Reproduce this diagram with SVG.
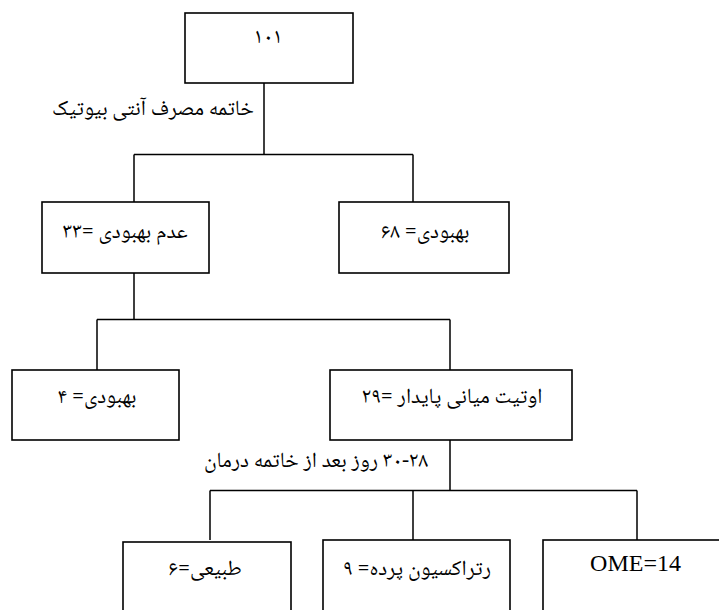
<svg xmlns="http://www.w3.org/2000/svg" width="719" height="610" viewBox="0 0 719 610">
<style>
.box{fill:#fff;stroke:#000;stroke-width:1.6}
.ln{fill:none;stroke:#000;stroke-width:1.5}
.fa{font-family:"Noto Naskh Arabic","Noto Sans Arabic","DejaVu Sans",sans-serif;font-size:21.5px;fill:#000;direction:rtl;unicode-bidi:embed;text-anchor:middle}
.en{font-family:"Liberation Serif",serif;font-size:24px;fill:#000;text-anchor:middle}
</style>
<rect width="719" height="610" fill="#fff"/>
<g id="connectors">
<path class="ln" d="M264 83V154.5M134 154.5H413M134 154.5V202M413 154.5V202"/>
<path class="ln" d="M134 273V319.5M97 319.5H450M97 319.5V370M450 319.5V370"/>
<path class="ln" d="M450 440V490.5M210 490.5H637M210 490.5V540M413 490.5V540M637 490.5V540"/>
</g>
<g id="n101"><rect class="box" x="185" y="13" width="168" height="70"/><text class="fa" x="268" y="43">۱۰۱</text></g>
<g id="label1"><text class="fa" x="153" y="115">خاتمه مصرف آنتی بیوتیک</text></g>
<g id="n33"><rect class="box" x="42" y="202" width="167" height="71"/><text class="fa" x="125" y="238">عدم بهبودی =۳۳</text></g>
<g id="n68"><rect class="box" x="339" y="202" width="170" height="71"/><text class="fa" x="425" y="238">بهبودی= ۶۸</text></g>
<g id="n4"><rect class="box" x="12" y="370" width="167" height="70"/><text class="fa" x="97" y="403">بهبودی= ۴</text></g>
<g id="n29"><rect class="box" x="330" y="370" width="242" height="70"/><text class="fa" x="452" y="403">اوتیت میانی پایدار =۲۹</text></g>
<g id="label2"><text class="fa" x="316" y="467">۳۰-۲۸ روز بعد از خاتمه درمان</text></g>
<g id="n6"><rect class="box" x="123" y="542" width="168" height="80"/><text class="fa" x="205" y="575">طبیعی=۶</text></g>
<g id="n9"><rect class="box" x="323" y="540" width="187" height="80"/><text class="fa" x="417" y="575">رتراکسیون پرده= ۹</text></g>
<g id="nOME"><rect class="box" x="543" y="540" width="190" height="80"/><text class="en" x="635.5" y="571">OME=14</text></g>
</svg>
